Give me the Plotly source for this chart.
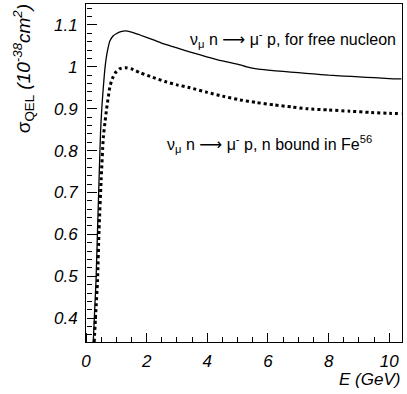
import plotly.graph_objects as go

# Free nucleon cross section (solid)
E_free = [0.24, 0.28, 0.33, 0.38, 0.43, 0.48, 0.52, 0.57, 0.63, 0.70, 0.79, 0.90, 1.0, 1.15, 1.29, 1.5, 1.78, 2.2, 2.6, 3.0, 3.5, 3.98, 4.5, 5.08, 5.3, 5.63, 6.0, 6.5, 7.0, 7.5, 8.0, 8.5, 9.0, 9.5, 10.0, 10.4]
sig_free = [0.343, 0.41, 0.49, 0.61, 0.73, 0.845, 0.90, 0.95, 1.0, 1.035, 1.062, 1.074, 1.079, 1.084, 1.086, 1.083, 1.076, 1.065, 1.054, 1.045, 1.034, 1.024, 1.014, 1.0045, 1.000, 0.995, 0.992, 0.989, 0.986, 0.983, 0.980, 0.978, 0.976, 0.974, 0.972, 0.971]

# Neutron bound in Fe56 (dotted)
E_fe = [0.27, 0.32, 0.38, 0.43, 0.50, 0.57, 0.63, 0.68, 0.74, 0.79, 0.87, 0.96, 1.1, 1.29, 1.5, 1.78, 2.2, 2.6, 3.0, 3.43, 4.0, 4.5, 5.08, 5.6, 6.2, 6.8, 7.27, 8.0, 8.7, 9.4, 10.0, 10.4]
sig_fe = [0.343, 0.41, 0.49, 0.61, 0.73, 0.83, 0.87, 0.90, 0.93, 0.953, 0.972, 0.985, 0.995, 0.998, 0.995, 0.986, 0.975, 0.965, 0.957, 0.950, 0.939, 0.930, 0.921, 0.915, 0.909, 0.904, 0.900, 0.897, 0.894, 0.891, 0.889, 0.888]

x_ticks = [0, 2, 4, 6, 8, 10]
y_ticks = [0.4, 0.5, 0.6, 0.7, 0.8, 0.9, 1.0, 1.1]
y_tick_text = ["0.4", "0.5", "0.6", "0.7", "0.8", "0.9", "1", "1.1"]

X_RANGE = [0, 10.42]
Y_RANGE = [0.343, 1.15]

FONT = "Liberation Sans, Arial, sans-serif"
ARROW = '<span style="font-family:DejaVu Sans">⟶</span>'

fig = go.Figure()
fig.add_trace(go.Scatter(x=E_free, y=sig_free, mode="lines", line=dict(color="black", width=1.3, shape="spline", smoothing=0.6),
                         showlegend=False))
fig.add_trace(go.Scatter(x=E_fe, y=sig_fe, mode="lines", xaxis="x2", yaxis="y2",
                         line=dict(color="black", width=3, dash="dot", shape="spline", smoothing=0.6), showlegend=False))

# Primary axes: labels + frame
fig.update_layout(
    xaxis=dict(range=X_RANGE, tickvals=x_ticks, ticktext=[f"<i>{v}</i>" for v in x_ticks], ticks="",
               showline=True, linecolor="black", linewidth=1, mirror=True, showgrid=False, zeroline=False,
               tickfont=dict(size=17, family=FONT, color="black"), ticklabelstandoff=4),
    yaxis=dict(range=Y_RANGE, tickvals=y_ticks, ticktext=[f"<i>{t}</i>" for t in y_tick_text], ticks="",
               showline=True, linecolor="black", linewidth=1, mirror=True, showgrid=False, zeroline=False,
               tickfont=dict(size=17, family=FONT, color="black"), ticklabelstandoff=4),
    # Overlay axes used only to draw tick marks pointing into the frame
    xaxis2=dict(range=X_RANGE, overlaying="x", side="top", anchor="free", position=0,
                tickvals=x_ticks, showticklabels=False, ticks="outside", ticklen=9, tickwidth=1, tickcolor="black",
                minor=dict(dtick=0.5, tick0=0, ticks="outside", ticklen=5, tickwidth=1, tickcolor="black", showgrid=False),
                showline=False, showgrid=False, zeroline=False),
    yaxis2=dict(range=Y_RANGE, overlaying="y", side="right", anchor="free", position=0,
                tickvals=y_ticks, showticklabels=False, ticks="outside", ticklen=10, tickwidth=1, tickcolor="black",
                minor=dict(dtick=0.02, tick0=0, ticks="outside", ticklen=5, tickwidth=1, tickcolor="black", showgrid=False),
                showline=False, showgrid=False, zeroline=False),
)

fig.update_layout(
    width=407, height=394,
    margin=dict(l=86, r=5, t=4, b=52),
    paper_bgcolor="white", plot_bgcolor="white",
    font=dict(family=FONT, color="black"),
    annotations=[
        dict(x=10.3, y=1.0666, xref="x", yref="y", xanchor="right", yanchor="middle", showarrow=False,
             text=f"ν<sub>μ</sub> n {ARROW} μ<sup>-</sup> p, for free nucleon", font=dict(size=16, family=FONT)),
        dict(x=2.6, y=0.815, xref="x", yref="y", xanchor="left", yanchor="middle", showarrow=False,
             text=f"ν<sub>μ</sub> n {ARROW} μ<sup>-</sup> p, n bound in Fe<sup>56</sup>", font=dict(size=16, family=FONT)),
        dict(x=-0.195, y=0.808, xref="paper", yref="paper", xanchor="center", yanchor="middle", showarrow=False, textangle=-90,
             text="σ<sub>QEL</sub> <i>(10<sup>-38</sup>cm<sup>2</sup>)</i>", font=dict(size=19, family=FONT)),
        dict(x=1.0, y=-0.112, xref="paper", yref="paper", xanchor="right", yanchor="middle", showarrow=False,
             text="<i>E (GeV)</i>", font=dict(size=17, family=FONT)),
    ],
)

fig.write_html("out.html")
